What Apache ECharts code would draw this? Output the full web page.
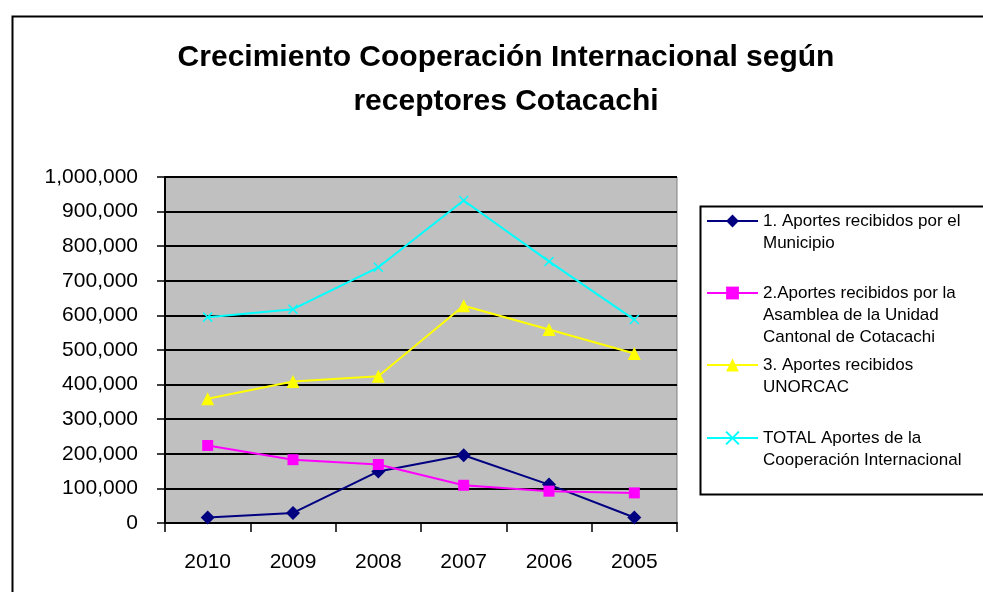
<!DOCTYPE html>
<html>
<head>
<meta charset="utf-8">
<title>Crecimiento Cooperación Internacional</title>
<script src="https://cdn.jsdelivr.net/npm/echarts@6/dist/echarts.min.js"></script>
<style>
    html, body { margin: 0; padding: 0; background: #fff; }
    #main { width: 983px; height: 592px; }
</style>
</head>
<body>
<div id="main"></div>
<script>
var years = ['2010', '2009', '2008', '2007', '2006', '2005'];
var municipio = [16000, 29000, 149000, 196000, 111000, 16000];
var asamblea = [224000, 183000, 169000, 109000, 92000, 87000];
var unorcac = [359000, 409000, 424000, 628000, 559000, 490000];
var total = [595000, 618000, 739000, 932000, 756000, 588000];
var yTicks = [0, 100000, 200000, 300000, 400000, 500000, 600000, 700000, 800000, 900000, 1000000];

var seriesNames = [
    '1. Aportes recibidos por el\nMunicipio',
    '2.Aportes recibidos por la\nAsamblea de la Unidad\nCantonal de Cotacachi',
    '3. Aportes recibidos\nUNORCAC',
    'TOTAL Aportes de la\nCooperación Internacional'
];
var legendY = [221, 293, 365, 438];

var font = "'Liberation Sans', Arial, sans-serif";
var xMark = 'path://M0,0 L10,10 M10,0 L0,10';

var chart = echarts.init(document.getElementById('main'));

// one legend per entry so the symbol sits on the first text line
var lineH = 22;
var legends = seriesNames.map(function (name, i) {
    var n = name.split('\n').length;
    var blockH = (2 * n - 1) * lineH;
    return {
        data: [name],
        orient: 'vertical',
        left: 706,
        top: legendY[i] - blockH / 2,
        padding: 0,
        itemWidth: 51,
        itemHeight: 16,
        selectedMode: false,
        formatter: function (nm) {
            var k = nm.split('\n').length;
            var pre = '';
            for (var j = 1; j < k; j++) pre += ' \n';
            return pre + nm;
        },
        textStyle: {
            fontFamily: font,
            fontSize: 17,
            color: '#000',
            lineHeight: lineH
        }
    };
});

function fmt(v) {
    return v.toString().replace(/\B(?=(\d{3})+(?!\d))/g, ',');
}

var option = {
    animation: false,
    backgroundColor: '#fff',
    title: {
        text: 'Crecimiento Cooperación Internacional según\nreceptores Cotacachi',
        left: 506,
        top: 36,
        padding: 0,
        textAlign: 'center',
        textStyle: {
            fontFamily: font,
            fontSize: 30,
            fontWeight: 'bold',
            color: '#000',
            lineHeight: 44
        }
    },
    legend: legends,
    grid: {
        left: 165,
        right: 306,
        top: 177,
        bottom: 69,
        show: true,
        backgroundColor: '#C0C0C0',
        borderColor: '#808080',
        borderWidth: 1
    },
    graphic: [
        {
            type: 'rect',
            left: 10,
            top: 14,
            shape: { width: 1000, height: 620 },
            style: { fill: 'none', stroke: '#000', lineWidth: 2 },
            silent: true
        },
        {
            type: 'rect',
            left: 698,
            top: 204,
            shape: { width: 300, height: 288 },
            style: { fill: 'none', stroke: '#000', lineWidth: 2 },
            silent: true
        }
    ],
    xAxis: {
        type: 'category',
        data: years,
        boundaryGap: true,
        axisLine: { lineStyle: { color: '#000', width: 2 } },
        axisTick: { show: true, length: 9, lineStyle: { color: '#000', width: 1.5 } },
        axisLabel: { margin: 29, fontFamily: font, fontSize: 21, color: '#000' },
        splitLine: { show: false }
    },
    yAxis: {
        type: 'value',
        min: yTicks[0],
        max: yTicks[yTicks.length - 1],
        interval: yTicks[1] - yTicks[0],
        axisLine: { show: true, lineStyle: { color: '#000', width: 2 } },
        axisTick: { show: true, length: 8, lineStyle: { color: '#000', width: 1.5 } },
        axisLabel: {
            margin: 27,
            fontFamily: font,
            fontSize: 21,
            color: '#000',
            formatter: fmt
        },
        splitLine: { show: true, lineStyle: { color: '#000', width: 2 } }
    },
    series: [
        {
            name: seriesNames[0],
            type: 'line',
            data: municipio,
            symbol: 'diamond',
            symbolSize: 14,
            lineStyle: { color: '#000080', width: 2 },
            itemStyle: { color: '#000080' }
        },
        {
            name: seriesNames[1],
            type: 'line',
            data: asamblea,
            symbol: 'rect',
            symbolSize: 11,
            lineStyle: { color: '#FF00FF', width: 2 },
            itemStyle: { color: '#FF00FF' }
        },
        {
            name: seriesNames[2],
            type: 'line',
            data: unorcac,
            symbol: 'triangle',
            symbolSize: 13,
            lineStyle: { color: '#FFFF00', width: 2 },
            itemStyle: { color: '#FFFF00' }
        },
        {
            name: seriesNames[3],
            type: 'line',
            data: total,
            symbol: xMark,
            symbolSize: 9,
            lineStyle: { color: '#00FFFF', width: 2 },
            itemStyle: { color: '#00FFFF', borderColor: '#00FFFF', borderWidth: 1.5 }
        }
    ]
};

chart.setOption(option);
</script>
</body>
</html>
